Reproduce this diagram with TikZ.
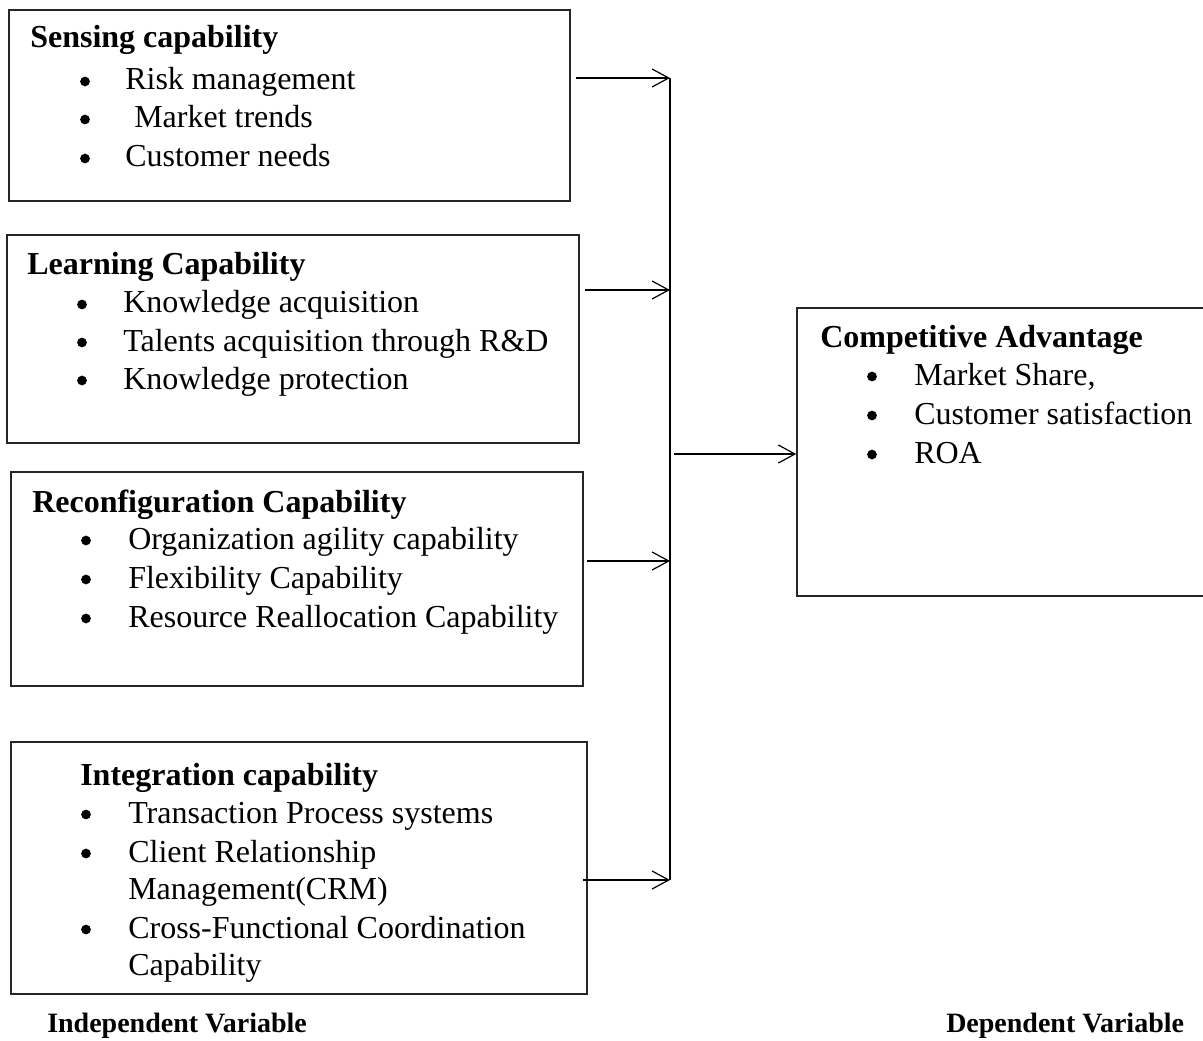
\documentclass[tikz,border=0pt]{standalone}
\usepackage{fontspec}
\setmainfont{Liberation Serif}
\usetikzlibrary{arrows.meta,fit}
\newcommand\bitem[5]{\node[bul] (#1b) at (#2,#4-8.5) {}; \node[txt] (#1) at (#3,#4) {#5};}
\begin{document}
\begin{tikzpicture}[x=0.75pt,y=-0.75pt,
  box/.style={draw=black!85,line width=1.1pt,inner sep=0pt},
  txt/.style={anchor=base west,inner sep=0pt,font=\fontsize{24}{29}\selectfont},
  head/.style={anchor=base west,inner sep=0pt,font=\fontsize{24}{29}\selectfont\bfseries},
  foot/.style={anchor=base west,inner sep=0pt,font=\fontsize{21}{25}\selectfont\bfseries},
  bul/.style={circle,fill=black,inner sep=0pt,minimum size=7.3pt},
  arr/.style={-{Straight Barb[length=12.5pt,width=13.5pt,line width=0.9pt]},line width=0.8pt},
  bus/.style={line width=0.8pt}]
\useasboundingbox (0,0) rectangle (1203,1041);
\clip (0,0) rectangle (1203,1041);

% boxes
\node[box,fit={(9,10) (570,201)}] (sense) {};
\node[box,fit={(7,235) (579,443)}] (learn) {};
\node[box,fit={(11,472) (583,686)}] (reconf) {};
\node[box,fit={(11,742) (587,994)}] (integ) {};
\node[box,fit={(797,308) (1215,596)}] (comp) {};

% sensing
\node[head] (sh) at (30,48) {Sensing capability};
\bitem{s1}{85}{125}{90}{Risk management}
\bitem{s2}{85}{134}{128}{Market trends}
\bitem{s3}{85}{125}{167}{Customer needs}

% learning
\node[head] (lh) at (27,275) {Learning Capability};
\bitem{l1}{82}{123}{313}{Knowledge acquisition}
\bitem{l2}{82}{123}{351}{Talents acquisition through R\&D}
\bitem{l3}{82}{123}{389}{Knowledge protection}

% reconfiguration
\node[head] (rh) at (32,512) {Reconfiguration Capability};
\bitem{r1}{86}{128}{549}{Organization agility capability}
\bitem{r2}{86}{128}{588}{Flexibility Capability}
\bitem{r3}{86}{128}{627}{Resource Reallocation Capability}

% integration
\node[head] (ih) at (80,785) {Integration capability};
\bitem{i1}{86}{128}{823}{Transaction Process systems}
\bitem{i2}{86}{128}{862}{Client Relationship}
\node[txt] (i2b2) at (128,899) {Management(CRM)};
\bitem{i3}{86}{128}{938}{Cross-Functional Coordination}
\node[txt] (i3b2) at (128,975) {Capability};

% competitive advantage
\node[head] (ch) at (820,348) {Competitive Advantage};
\bitem{c1}{872}{914}{385}{Market Share,}
\bitem{c2}{872}{914}{424}{Customer satisfaction}
\bitem{c3}{872}{914}{463}{ROA}

% bottom labels
\node[foot] (indep) at (47,1032) {Independent Variable};
\node[foot] (dep) at (946,1032) {Dependent Variable};

% connectors
\coordinate (a1) at (576,78);  \coordinate (j1) at (670,78);
\coordinate (a2) at (585,290); \coordinate (j2) at (670,290);
\coordinate (a3) at (587,561); \coordinate (j3) at (670,561);
\coordinate (a4) at (583,880); \coordinate (j4) at (670,880);
\coordinate (m0) at (674,454);
\draw[arr] (a1) -- (j1);
\draw[arr] (a2) -- (j2);
\draw[arr] (a3) -- (j3);
\draw[arr] (a4) -- (j4);
\draw[bus] (j1) -- (j4);
\draw[arr] (m0) -- (m0 -| comp.west);
\end{tikzpicture}
\end{document}
